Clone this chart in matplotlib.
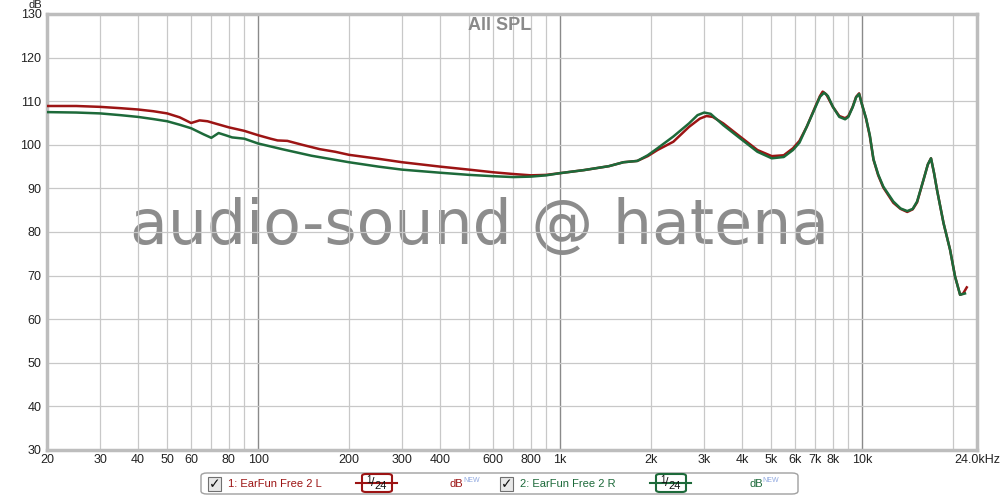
import matplotlib
matplotlib.use("Agg")
import matplotlib.pyplot as plt
from matplotlib.patches import FancyBboxPatch, Rectangle
from matplotlib.lines import Line2D

plt.rcParams['font.family'] = ['Liberation Sans', 'DejaVu Sans']

# ---- data ----
freq_L = [20, 25, 30, 35, 40, 45, 50, 55, 60, 64, 68, 72, 80, 90, 100, 110, 116, 125, 140, 160, 180,
          200, 250, 300, 400, 500, 600, 700, 800, 900, 1000, 1200, 1450, 1620, 1800, 1950, 2100,
          2370, 2670, 2900, 3050, 3200, 3470, 3940, 4500, 5020, 5500, 5900, 6200, 6560, 7000, 7250,
          7400, 7600, 8000, 8400, 8780, 9000, 9300, 9550, 9770, 10000, 10300, 10600, 10900, 11300,
          11750, 12680, 13400, 14100, 14700, 15200, 15950, 16500, 16900, 17300, 17700, 18600, 19550,
          20300, 21100, 21600, 22200]
spl_L = [108.9, 108.9, 108.7, 108.4, 108.1, 107.7, 107.2, 106.3, 105.0, 105.6, 105.4, 104.9, 104.0,
         103.2, 102.2, 101.4, 101.0, 100.9, 100.0, 99.0, 98.4, 97.7, 96.8, 96.0, 95.0, 94.3, 93.7,
         93.3, 93.0, 93.1, 93.5, 94.2, 95.1, 96.0, 96.3, 97.4, 98.8, 100.7, 104.1, 106.0, 106.6,
         106.4, 104.9, 101.9, 98.8, 97.4, 97.6, 99.2, 100.9, 104.2, 108.8, 111.2, 112.2, 111.6,
         108.7, 106.6, 106.1, 106.6, 108.7, 111.0, 111.8, 109.1, 106.0, 102.0, 96.6, 93.0, 90.2,
         86.7, 85.3, 84.6, 85.2, 86.8, 91.9, 95.5, 96.9, 93.5, 89.6, 82.0, 75.9, 69.8, 65.6, 65.9,
         67.3]

freq_R = [20, 25, 30, 35, 40, 45, 50, 55, 60, 66, 70, 74, 78, 82, 90, 100, 120, 150, 200, 250, 300,
          400, 500, 600, 700, 800, 900, 1000, 1200, 1450, 1620, 1800, 1950, 2100, 2370, 2670, 2850,
          3000, 3150, 3470, 3940, 4500, 5020, 5500, 5900, 6200, 6560, 7000, 7250, 7480, 7700, 8000,
          8400, 8780, 9000, 9300, 9550, 9770, 10000, 10300, 10600, 10900, 11300, 11750, 12680, 13400,
          14100, 14700, 15200, 15950, 16500, 16900, 17300, 17700, 18600, 19550, 20300, 21100,
          21900]
spl_R = [107.5, 107.4, 107.2, 106.8, 106.4, 105.9, 105.4, 104.6, 103.8, 102.4, 101.6, 102.7, 102.2,
         101.7, 101.4, 100.3, 99.0, 97.5, 96.0, 95.0, 94.3, 93.6, 93.1, 92.8, 92.6, 92.7, 93.0, 93.5,
         94.2, 95.1, 96.0, 96.3, 97.6, 99.2, 101.9, 104.9, 106.8, 107.4, 107.1, 104.5, 101.5, 98.4,
         96.9, 97.2, 98.8, 100.5, 104.2, 108.6, 111.0, 111.95, 111.2, 108.7, 106.4, 105.85, 106.4,
         108.6, 110.9, 111.65, 109.1, 106.1, 102.2, 96.7, 93.2, 90.4, 87.0, 85.4, 84.8, 85.3, 87.0,
         91.9, 95.5, 96.9, 93.5, 89.6, 82.0, 75.9, 69.8, 65.6, 65.9]

x_ticks = [20, 30, 40, 50, 60, 80, 100, 200, 300, 400, 600, 800, 1000, 2000, 3000, 4000, 5000, 6000,
           7000, 8000, 10000, 24000]
x_labels = ['20', '30', '40', '50', '60', '80', '100', '200', '300', '400', '600', '800', '1k', '2k',
            '3k', '4k', '5k', '6k', '7k', '8k', '10k', '24.0kHz']
y_ticks = list(range(30, 131, 10))

RED = '#9c1414'
GREEN = '#1d6a3a'

W, H = 1000, 496
fig = plt.figure(figsize=(W / 100, H / 100), dpi=100)
ax = fig.add_axes([47 / W, (H - 450) / H, (977 - 47) / W, (450 - 14) / H])
ax.set_xscale('log')
ax.set_xlim(20, 24000)
ax.set_ylim(30, 130)

# grid
minor = []
for dec in [10, 100, 1000, 10000]:
    for m in range(1, 10):
        f = dec * m
        if 20 <= f <= 24000:
            minor.append(f)
for f in minor:
    if f in (100, 1000, 10000):
        ax.axvline(f, color='#8a8a8a', lw=1.0, zorder=1)
    else:
        ax.axvline(f, color='#c8c8c8', lw=0.9, zorder=1)
for y in y_ticks[1:-1]:
    ax.axhline(y, color='#c8c8c8', lw=0.9, zorder=1)

# watermark (behind grid)
ax.text(480 / W, (H - 244) / H, 'audio-sound @ hatena', transform=fig.transFigure,
        ha='center', va='baseline', fontsize=44.5, color='#8c8c8c',
        family=['DejaVu Sans'], zorder=0.5)

ax.plot(freq_L, spl_L, color=RED, lw=1.8, zorder=4)
ax.plot(freq_R, spl_R, color=GREEN, lw=1.8, zorder=5)

ax.set_xticks(x_ticks)
ax.set_xticklabels(x_labels)
ax.xaxis.set_minor_locator(matplotlib.ticker.NullLocator())
ax.set_yticks(y_ticks)
ax.tick_params(axis='both', length=0, labelsize=9, colors='#222222', pad=3)
ax.tick_params(axis='y', pad=4)
for s in ax.spines.values():
    s.set_color('#bdbdbd')
    s.set_linewidth(2.5)

fig.text(35 / W, (H - 4.5) / H, 'dB', fontsize=8, ha='center', va='center', color='#222222')
fig.text(500 / W, (H - 25) / H, 'All SPL', fontsize=13, fontweight='bold', ha='center',
         va='center', color='#8a8a8a')

# legend box
def px(x, y):
    return x / W, (H - y) / H

lg = FancyBboxPatch(px(201, 494), 597 / W, 21 / H, boxstyle='round,pad=0,rounding_size=0.006',
                    transform=fig.transFigure, fc='white', ec='#a0a0a0', lw=1.0)
fig.add_artist(lg)

def entry(x0, label, col, dbx, boxx):
    cb = Rectangle(px(x0, 491), 13 / W, 14 / H, transform=fig.transFigure, fc='#e8e8e8',
                   ec='#707070', lw=0.8)
    fig.add_artist(cb)
    fig.text(*px(x0 + 6.5, 484), '\u2713', fontsize=10, ha='center', va='center', color='#111111',
             family=['DejaVu Sans'], fontweight='bold')
    fig.text(*px(x0 + 20, 484), label, fontsize=8, ha='left', va='center', color=col)
    bx = boxx
    fig.add_artist(Line2D([px(bx - 5, 0)[0], px(bx + 36, 0)[0]], [px(0, 483)[1]] * 2,
                          transform=fig.transFigure, color=col, lw=1.5))
    fig.add_artist(FancyBboxPatch(px(bx + 1, 492), 30 / W, 18 / H,
                                  boxstyle='round,pad=0,rounding_size=0.004',
                                  transform=fig.transFigure, fc='white', ec=col, lw=1.5))
    fig.text(*px(bx + 8, 480), '1', fontsize=7, ha='center', va='center', color='#111111')
    fig.text(*px(bx + 12, 483), '/', fontsize=9, ha='center', va='center', color='#111111')
    fig.text(*px(bx + 20, 486), '24', fontsize=8, ha='center', va='center', color='#111111')
    fig.text(*px(dbx, 484), 'dB', fontsize=8, ha='left', va='center', color=col)
    fig.text(*px(dbx + 13, 480), 'NEW', fontsize=5, ha='left', va='center', color='#8fa8e0')

entry(208, '1: EarFun Free 2 L', RED, 450, 361)
entry(500, '2: EarFun Free 2 R', GREEN, 749, 655)

fig.savefig('out.png', dpi=100, facecolor='white')
